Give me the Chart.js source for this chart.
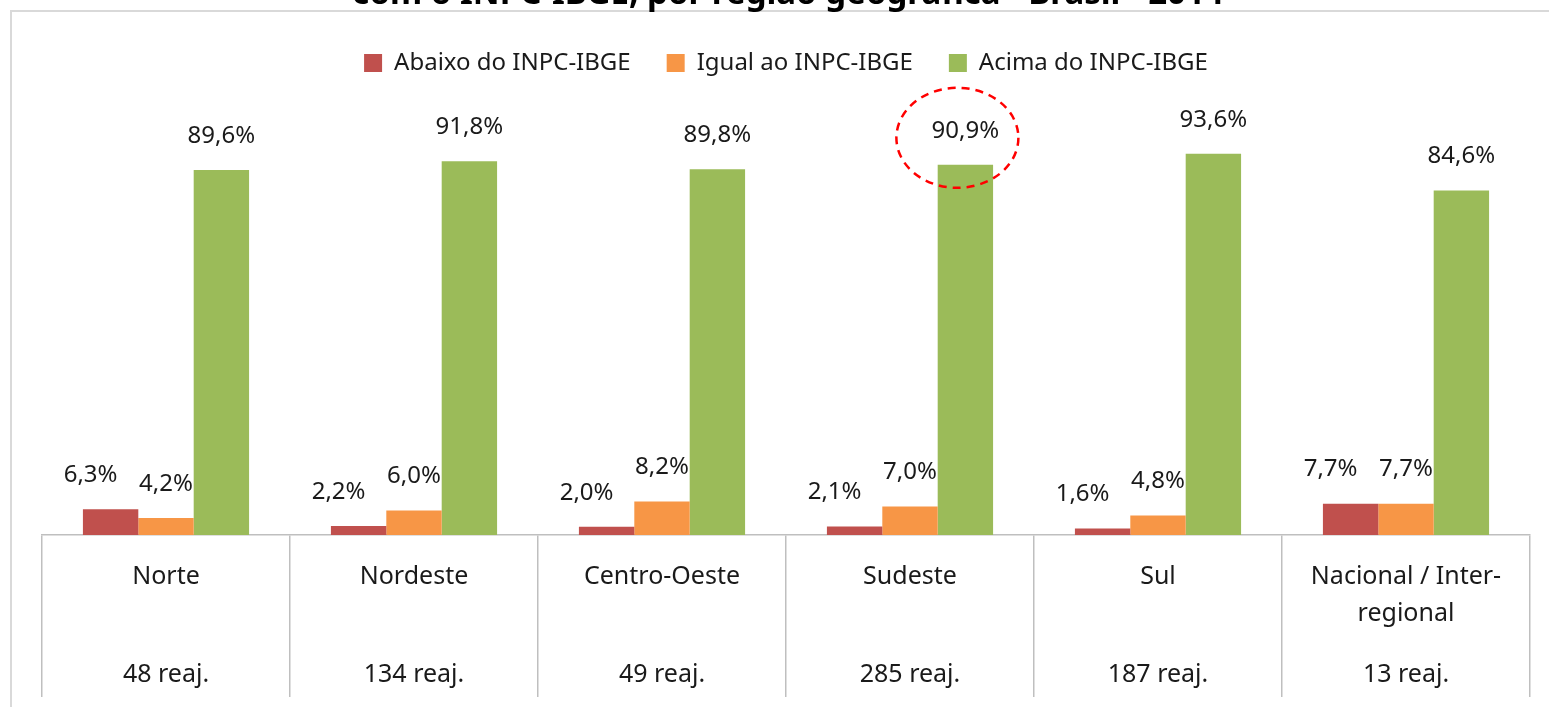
<!DOCTYPE html>
<html>
<head>
<meta charset="utf-8">
<script src="https://cdn.jsdelivr.net/npm/chart.js@4"></script>
<style>
    html, body { margin: 0; padding: 0; background: #fff; }
    #wrap { position: relative; width: 1549px; height: 707px; }
</style>
</head>
<body>
<div id="wrap"><canvas id="chart" width="1549" height="707"></canvas></div>
<script>
// Chart data
const regions = ['Norte', 'Nordeste', 'Centro-Oeste', 'Sudeste', 'Sul', 'Nacional / Inter-regional'];
const regionLines = [['Norte'], ['Nordeste'], ['Centro-Oeste'], ['Sudeste'], ['Sul'], ['Nacional / Inter-', 'regional']];
const reajustes = ['48 reaj.', '134 reaj.', '49 reaj.', '285 reaj.', '187 reaj.', '13 reaj.'];
const seriesNames = ['Abaixo do INPC-IBGE', 'Igual ao INPC-IBGE', 'Acima do INPC-IBGE'];
const abaixo = [6.3, 2.2, 2.0, 2.1, 1.6, 7.7];
const igual = [4.2, 6.0, 8.2, 7.0, 4.8, 7.7];
const acima = [89.6, 91.8, 89.8, 90.9, 93.6, 84.6];
const titleText = 'com o INPC-IBGE, por região geográfica - Brasil - 2014';

const colors = ['#C0504D', '#F79646', '#9BBB59'];
const labelShift = [-20, 0, 0];
const FONT = '"Noto Sans", "DejaVu Sans", sans-serif';

// Frame and the cut-off title
const framePlugin = {
    id: 'frame',
    beforeDraw(chart) {
        const ctx = chart.ctx;
        ctx.save();
        ctx.fillStyle = '#ffffff';
        ctx.fillRect(0, 0, chart.width, chart.height);
        ctx.strokeStyle = '#d9d9d9';
        ctx.lineWidth = 2;
        ctx.beginPath();
        ctx.moveTo(11, chart.height + 5);
        ctx.lineTo(11, 11);
        ctx.lineTo(chart.width + 5, 11);
        ctx.stroke();
        ctx.fillStyle = '#000000';
        ctx.font = 'bold 33px ' + FONT;
        ctx.textAlign = 'center';
        ctx.textBaseline = 'alphabetic';
        ctx.fillText(titleText, 788, 4, 905);
        ctx.restore();
    }
};

// Value labels, category labels and the highlight circle
const labelsPlugin = {
    id: 'valueLabels',
    afterDatasetsDraw(chart) {
        const ctx = chart.ctx;
        ctx.save();
        ctx.font = '24px ' + FONT;
        ctx.fillStyle = '#1a1a1a';
        ctx.textAlign = 'center';
        ctx.textBaseline = 'middle';
        chart.data.datasets.forEach((ds, i) => {
            chart.getDatasetMeta(i).data.forEach((bar, j) => {
                const txt = ds.data[j].toFixed(1).replace('.', ',') + '%';
                ctx.fillText(txt, bar.x + labelShift[i], bar.y - 34);
            });
        });

        // category labels under the axis
        ctx.font = '25px ' + FONT;
        const xs = chart.scales.x;
        const base = chart.chartArea.bottom;
        regions.forEach((r, i) => {
            const x = xs.getPixelForValue(i);
            regionLines[i].forEach((line, k) => {
                ctx.fillText(line, x, base + 42 + k * 37);
            });
            ctx.fillText(reajustes[i], x, base + 140);
        });

        // dashed circle around the Sudeste value
        const hb = chart.getDatasetMeta(2).data[3];
        ctx.strokeStyle = '#ff0000';
        ctx.lineWidth = 2.5;
        ctx.setLineDash([8, 6]);
        ctx.beginPath();
        ctx.ellipse(hb.x - 8, hb.y - 27, 61, 50, 0, 0, Math.PI * 2);
        ctx.stroke();
        ctx.restore();
    }
};

new Chart(document.getElementById('chart').getContext('2d'), {
    type: 'bar',
    data: {
        labels: regions,
        datasets: [abaixo, igual, acima].map((vals, i) => ({
            label: seriesNames[i],
            data: vals,
            backgroundColor: colors[i],
            borderWidth: 0,
            categoryPercentage: 0.67,
            barPercentage: 1.0
        }))
    },
    options: {
        responsive: false,
        animation: false,
        layout: {
            padding: { left: 42, right: 19, top: 15, bottom: 10 }
        },
        plugins: {
            legend: {
                position: 'top',
                labels: {
                    boxWidth: 18,
                    boxHeight: 18,
                    padding: 36,
                    color: '#1a1a1a',
                    font: { family: FONT, size: 24 }
                }
            },
            tooltip: { enabled: false }
        },
        scales: {
            y: {
                display: false,
                min: 0,
                max: 110.5
            },
            x: {
                grid: {
                    offset: true,
                    drawOnChartArea: false,
                    drawTicks: true,
                    tickLength: 162,
                    color: '#bfbfbf',
                    lineWidth: 1.5
                },
                border: { color: '#bfbfbf', width: 1.5 },
                ticks: { display: false }
            }
        }
    },
    plugins: [framePlugin, labelsPlugin]
});
</script>
</body>
</html>
